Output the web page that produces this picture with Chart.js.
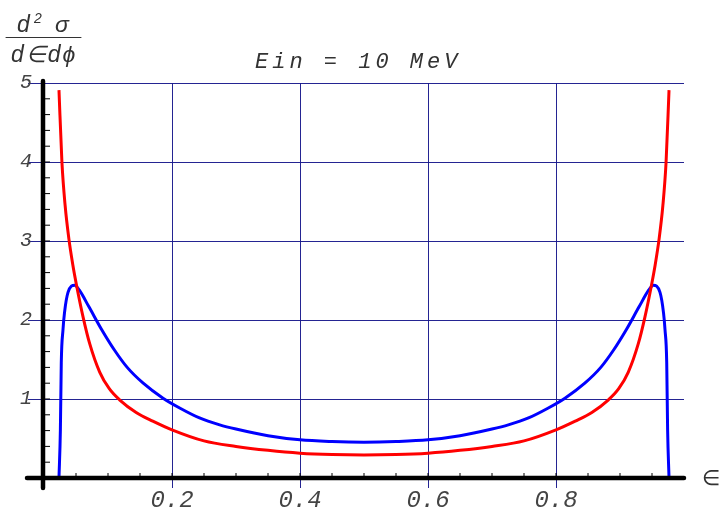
<!DOCTYPE html>
<html>
<head>
<meta charset="utf-8">
<script src="https://cdn.jsdelivr.net/npm/chart.js@4"></script>
<style>
html,body{margin:0;padding:0;background:#fff;}
canvas{display:block;}
</style>
</head>
<body>
<canvas id="c" width="719" height="510"></canvas>
<script>
// ---- data ----
const chartTitle = "Ein = 10 MeV";
const xTickValues = [0.2, 0.4, 0.6, 0.8];
const yTickValues = [1, 2, 3, 4, 5];

const redEps = [0.0234,0.028,0.033,0.039,0.045,0.0506,0.061,0.0714,0.087,0.102,0.118,0.144,0.17,0.2,0.25,0.3,0.35,0.4,0.45,0.5,
                0.55,0.6,0.65,0.7,0.75,0.8,0.83,0.856,0.882,0.898,0.913,0.9286,0.939,0.9494,0.955,0.961,0.967,0.972,0.9766];
const redVals = [4.91,4.0,3.45,3.02,2.70,2.45,2.04,1.70,1.34,1.13,0.99,0.83,0.72,0.61,0.47,0.40,0.35,0.314,0.296,0.29,
                 0.296,0.314,0.35,0.40,0.47,0.61,0.72,0.83,0.99,1.13,1.34,1.70,2.04,2.45,2.70,3.02,3.45,4.0,4.91];

const blueEps = [0.0234,0.0256,0.027,0.0297,0.032,0.0375,0.048,0.055,0.07,0.09,0.11,0.13,0.155,0.186,0.212,0.243,0.2745,0.3,0.35,0.4,0.45,0.5,
                 0.55,0.6,0.65,0.7,0.7255,0.757,0.788,0.814,0.845,0.87,0.89,0.91,0.93,0.945,0.952,0.9625,0.968,0.9703,0.973,0.9744,0.9766];
const blueVals = [0,0.61,1.46,1.88,2.09,2.35,2.44,2.38,2.17,1.88,1.62,1.40,1.20,1.01,0.886,0.76,0.673,0.62,0.535,0.483,0.462,0.454,
                  0.462,0.483,0.535,0.62,0.673,0.76,0.886,1.01,1.20,1.40,1.62,1.88,2.17,2.38,2.44,2.35,2.09,1.88,1.46,0.61,0];

const toPts = (xs, ys) => xs.map((x, i) => ({x: x, y: ys[i]}));

const gridBlue = 'rgba(24,24,140,0.95)';

const decor = {
  id: 'decor',
  afterDraw(chart) {
    const ctx = chart.ctx;
    const xs = chart.scales.x, ys = chart.scales.y;
    const x0 = xs.getPixelForValue(0), x1 = xs.getPixelForValue(1);
    const y0 = ys.getPixelForValue(0), y5 = ys.getPixelForValue(5);
    ctx.save();
    // minor ticks
    ctx.strokeStyle = '#000';
    ctx.lineWidth = 1;
    for (let k = 1; k < 25; k++) {
      const py = ys.getPixelForValue(k * 0.2);
      ctx.beginPath(); ctx.moveTo(x0, py); ctx.lineTo(x0 + 6, py); ctx.stroke();
    }
    for (let k = 1; k < 20; k++) {
      const px = xs.getPixelForValue(k * 0.05);
      ctx.beginPath(); ctx.moveTo(px, y0); ctx.lineTo(px, y0 - 5); ctx.stroke();
    }
    // axes
    ctx.strokeStyle = '#000';
    ctx.lineWidth = 4.5;
    ctx.lineCap = 'round';
    ctx.beginPath(); ctx.moveTo(x0 - 17, y0); ctx.lineTo(x1, y0); ctx.stroke();
    ctx.beginPath(); ctx.moveTo(x0 - 1, y5 - 2); ctx.lineTo(x0 - 1, y0 + 10); ctx.stroke();

    // title
    ctx.fillStyle = '#333';
    ctx.font = 'italic 22px "Liberation Mono"';
    ctx.textBaseline = 'alphabetic';
    ctx.textAlign = 'left';
    ctx.letterSpacing = '4px';
    ctx.fillText(chartTitle, 255, 68);
    ctx.letterSpacing = '0px';

    // y label (fraction)
    ctx.fillStyle = '#333';
    ctx.font = 'italic 23px "Liberation Sans"';
    ctx.textAlign = 'left';
    ctx.fillText('d', 17, 32);
    ctx.font = 'italic 14px "Liberation Sans"';
    ctx.fillText('2', 34, 23);
    ctx.font = 'italic 23px "Liberation Sans"';
    ctx.fillText('σ', 55, 32);
    ctx.letterSpacing = '2px';
    ctx.fillText('d∈dϕ', 11, 62);
    ctx.letterSpacing = '0px';
    ctx.strokeStyle = '#333';
    ctx.lineWidth = 1;
    ctx.beginPath(); ctx.moveTo(6, 37.5); ctx.lineTo(81, 37.5); ctx.stroke();

    // x label
    ctx.font = '21px "Liberation Sans"';
    ctx.textBaseline = 'middle';
    ctx.fillText('∈', 702, y0 + 1);
    ctx.restore();
  }
};

new Chart(document.getElementById('c'), {
  type: 'scatter',
  data: {
    datasets: [
      {label: 'red', data: toPts(redEps, redVals), showLine: true, borderColor: '#ff0000', borderWidth: 3,
       pointRadius: 0, cubicInterpolationMode: 'monotone', fill: false},
      {label: 'blue', data: toPts(blueEps, blueVals), showLine: true, borderColor: '#0000ff', borderWidth: 3,
       pointRadius: 0, cubicInterpolationMode: 'monotone', fill: false}
    ]
  },
  options: {
    responsive: false,
    animation: false,
    devicePixelRatio: 1,
    layout: {padding: {top: 83, right: 35, left: 0, bottom: 0}},
    plugins: {legend: {display: false}, tooltip: {enabled: false}, title: {display: false}},
    scales: {
      x: {
        type: 'linear', min: 0, max: 1,
        afterFit: s => { s.height = 32; },
        afterBuildTicks: s => { s.ticks = [0].concat(xTickValues, [1]).map(v => ({value: v})); },
        border: {display: false},
        grid: {
          color: c => (c.tick && (c.tick.value === 0 || c.tick.value === 1)) ? 'rgba(0,0,0,0)' : gridBlue,
          lineWidth: 1, tickLength: 10
        },
        ticks: {
          color: '#444', padding: -2, maxRotation: 0, autoSkip: false,
          font: {family: '"Liberation Mono"', size: 24, style: 'italic'},
          callback: v => xTickValues.includes(Math.round(v * 10) / 10) && v > 0.01 && v < 0.99 ? v.toFixed(1) : ''
        }
      },
      y: {
        type: 'linear', min: 0, max: 5,
        afterFit: s => { s.width = 44; },
        afterBuildTicks: s => { s.ticks = [0].concat(yTickValues).map(v => ({value: v})); },
        border: {display: false},
        grid: {
          color: c => (c.tick && c.tick.value === 0) ? 'rgba(0,0,0,0)' : gridBlue,
          lineWidth: 1, tickLength: 16
        },
        ticks: {
          color: '#444', padding: -4, autoSkip: false,
          font: {family: '"Liberation Mono"', size: 20, style: 'italic'},
          callback: v => v === 0 ? '' : String(v)
        }
      }
    }
  },
  plugins: [decor]
});
</script>
</body>
</html>
